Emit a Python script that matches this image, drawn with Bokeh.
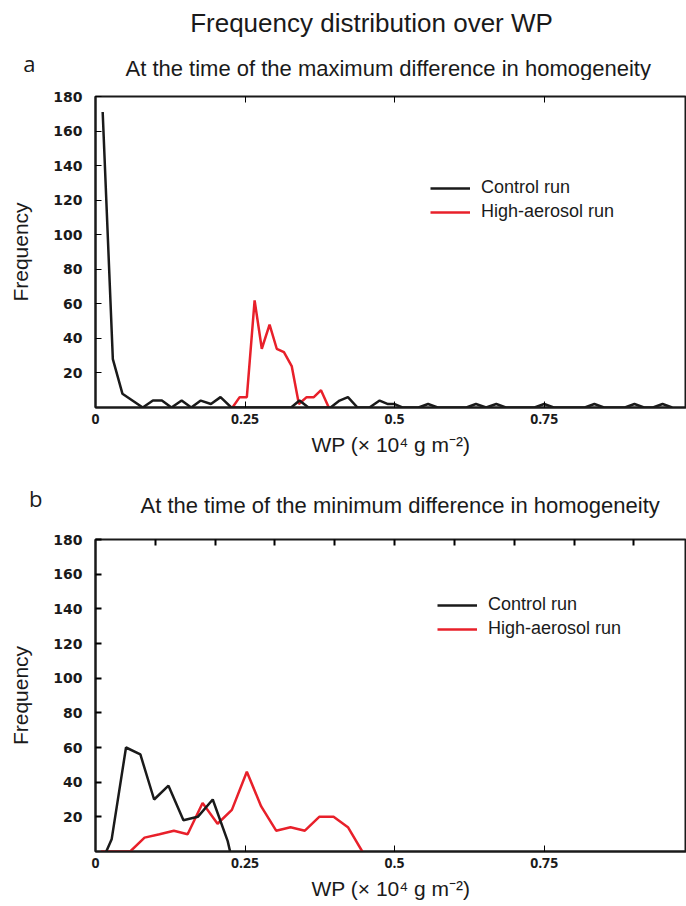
from bokeh.plotting import figure
from bokeh.models import (Legend, LegendItem, FixedTicker, LinearAxis,
                          Range1d, ColumnDataSource)
from bokeh.core.properties import value
from bokeh.layouts import column
from bokeh.embed import file_html
from bokeh.resources import INLINE

# ---------------- data ----------------
# Panel a: at the time of the maximum difference in homogeneity
a_control_wp = [0.012, 0.029, 0.045, 0.079, 0.096, 0.111, 0.127, 0.144, 0.160,
                0.176, 0.193, 0.209, 0.227, 0.327, 0.341, 0.356, 0.393, 0.408,
                0.422, 0.438, 0.458, 0.475, 0.489, 0.500, 0.513, 0.540, 0.556,
                0.572, 0.620, 0.636, 0.653, 0.670, 0.686, 0.734, 0.750, 0.766,
                0.818, 0.834, 0.850, 0.885, 0.901, 0.917, 0.932, 0.948, 0.964]
a_control_freq = [171, 28, 8, 0, 4, 4, 0, 4, 0,
                  4, 2, 6, 0, 0, 4, 0, 0, 4,
                  6, 0, 0, 4, 2, 2, 0, 0, 2,
                  0, 0, 2, 0, 2, 0, 0, 2, 0,
                  0, 2, 0, 0, 2, 0, 0, 2, 0]
a_aerosol_wp = [0.229, 0.241, 0.253, 0.266, 0.278, 0.291, 0.303, 0.315, 0.328,
                0.340, 0.353, 0.365, 0.377, 0.390]
a_aerosol_freq = [0, 6, 6, 62, 34, 48, 34, 32, 24, 2, 6, 6, 10, 0]

# Panel b: at the time of the minimum difference in homogeneity
b_control_wp = [0.018, 0.027, 0.051, 0.075, 0.098, 0.122, 0.147, 0.171, 0.196,
                0.221, 0.225]
b_control_freq = [0, 7, 60, 56, 30, 38, 18, 20, 30, 6, 0]
b_aerosol_wp = [0.009, 0.058, 0.082, 0.107, 0.131, 0.154, 0.179, 0.204, 0.228,
                0.253, 0.277, 0.302, 0.326, 0.350, 0.374, 0.398, 0.422, 0.446]
b_aerosol_freq = [0, 0, 8, 10, 12, 10, 28, 16, 24, 46, 26, 12, 14, 12, 20, 20,
                  14, 0]

x_ticks = [0, 0.25, 0.5, 0.75, 1]
x_tick_labels = ["0", "0.25", "0.5", "0.75", "1"]
y_ticks = [20, 40, 60, 80, 100, 120, 140, 160, 180]

series_names = ["Control run", "High-aerosol run"]
main_title = "Frequency distribution over WP"
sub_a = "At the time of the maximum difference in homogeneity"
sub_b = "At the time of the minimum difference in homogeneity"
x_label = "WP (× 10⁴ g m⁻²)"
y_label = "Frequency"

BLACK = "#1a1a1a"
RED = "#e8202a"
SANS = "Liberation Sans"

W = 686
FRAME_LEFT = 95


def strip(height, texts, letter=None, letter_standoff=50):
    """Text strip; its data space is page pixels (x) and strip pixels (y, down)."""
    h = figure(width=W, height=height, output_backend="svg",
               toolbar_location=None, x_range=Range1d(FRAME_LEFT, W),
               y_range=Range1d(height, 0), x_axis_type=None,
               min_border=0, min_border_left=FRAME_LEFT)
    h.outline_line_color = None
    h.xgrid.visible = False
    h.ygrid.visible = False
    h.background_fill_color = "white"
    h.border_fill_color = "white"
    ya = h.yaxis[0]
    ya.ticker = FixedTicker(ticks=[])
    ya.axis_line_color = None
    ya.major_tick_line_color = None
    ya.minor_tick_line_color = None
    ya.major_label_text_font_size = "12px"
    if letter is not None:
        ya.axis_label = letter
        ya.axis_label_orientation = "horizontal"
        ya.axis_label_text_font = "Open Sans"
        ya.axis_label_text_font_style = "normal"
        ya.axis_label_text_font_size = "22px"
        ya.axis_label_text_color = BLACK
        ya.axis_label_standoff = letter_standoff
    else:
        ya.visible = False
    for (x, y, text, font, size, align) in texts:
        h.text(x=[x], y=[y], text=[text], text_font=value(font),
               text_font_size=size, text_align=align,
               text_baseline="middle", text_color=BLACK)
    return h


def make_panel(height, top, bottom, cx, cy, ax, ay, top_ticks, tick_w,
               leg_loc):
    p = figure(width=W, height=height, output_backend="svg",
               toolbar_location=None, x_range=Range1d(0, 0.988),
               y_range=Range1d(0, 180), min_border_left=FRAME_LEFT,
               min_border_right=0, min_border_top=top,
               min_border_bottom=bottom)
    p.xgrid.visible = False
    p.ygrid.visible = False
    p.background_fill_color = "white"
    p.border_fill_color = "white"
    p.outline_line_color = BLACK
    p.outline_line_width = 2

    xa = p.xaxis[0]
    xa.ticker = FixedTicker(ticks=x_ticks)
    xa.major_label_overrides = {t: l for t, l in zip(x_ticks, x_tick_labels)}
    xa.major_label_text_font = "Open Sans"
    xa.major_label_text_font_style = "bold"
    xa.major_label_text_font_size = "14px"
    xa.major_label_text_color = BLACK
    xa.major_label_standoff = 6
    xa.axis_line_width = 2
    xa.axis_line_color = BLACK
    xa.major_tick_in = 6
    xa.major_tick_out = 0
    xa.major_tick_line_width = 1
    xa.minor_tick_line_color = None
    xa.axis_label = x_label
    xa.axis_label_text_font = SANS
    xa.axis_label_text_font_style = "normal"
    xa.axis_label_text_font_size = "21px"
    xa.axis_label_text_color = BLACK
    xa.axis_label_standoff = 6

    ya = p.yaxis[0]
    ya.ticker = FixedTicker(ticks=y_ticks)
    ya.major_label_text_font = "DejaVu Sans"
    ya.major_label_text_font_style = "bold"
    ya.major_label_text_font_size = "14px"
    ya.major_label_text_color = BLACK
    ya.major_label_standoff = 13
    ya.axis_line_width = 2
    ya.axis_line_color = BLACK
    ya.major_tick_in = 6
    ya.major_tick_out = 0
    ya.major_tick_line_width = tick_w
    ya.minor_tick_line_color = None
    ya.axis_label = y_label
    ya.axis_label_text_font = SANS
    ya.axis_label_text_font_style = "normal"
    ya.axis_label_text_font_size = "21px"
    ya.axis_label_text_color = BLACK
    ya.axis_label_standoff = 18

    ta = LinearAxis(ticker=FixedTicker(ticks=top_ticks),
                    major_label_overrides={t: "" for t in top_ticks},
                    axis_line_color=None, major_tick_in=6, major_tick_out=0,
                    major_tick_line_width=tick_w, minor_tick_line_color=None,
                    major_label_standoff=0)
    p.add_layout(ta, "above")

    src_c = ColumnDataSource(dict(x=cx, y=cy))
    src_a = ColumnDataSource(dict(x=ax, y=ay))
    r_a = p.line("x", "y", source=src_a, line_color=RED, line_width=2.5)
    r_c = p.line("x", "y", source=src_c, line_color=BLACK, line_width=2.5)

    leg = Legend(items=[LegendItem(label=series_names[0], renderers=[r_c]),
                        LegendItem(label=series_names[1], renderers=[r_a])],
                 location=leg_loc, glyph_width=40, glyph_height=20,
                 label_standoff=11, spacing=3, padding=0, margin=0,
                 border_line_alpha=0, background_fill_alpha=0,
                 label_text_font=SANS, label_text_font_size="18px",
                 label_text_color=BLACK)
    p.add_layout(leg)
    return p


title_strip = strip(44, [(371, 22, main_title, SANS, "26px", "center")])
sub_strip_a = strip(36, [(125, 24, sub_a, SANS, "22px", "left")],
                    letter="a", letter_standoff=60)
pa = make_panel(390, 16, 63, a_control_wp, a_control_freq, a_aerosol_wp,
                a_aerosol_freq, [0.25, 0.5, 0.75], 1, (335, 185))
sub_strip_b = strip(55, [(140, 35, sub_b, SANS, "22px", "left")],
                    letter="b", letter_standoff=53)
pb = make_panel(381, 14, 55, b_control_wp, b_control_freq, b_aerosol_wp,
                b_aerosol_freq, [0.1, 0.2, 0.3, 0.4, 0.5, 0.6, 0.7, 0.8, 0.9],
                2, (342, 212))

layout = column(title_strip, sub_strip_a, pa, sub_strip_b, pb, spacing=0)
open("out.html", "w").write(file_html(layout, INLINE))
